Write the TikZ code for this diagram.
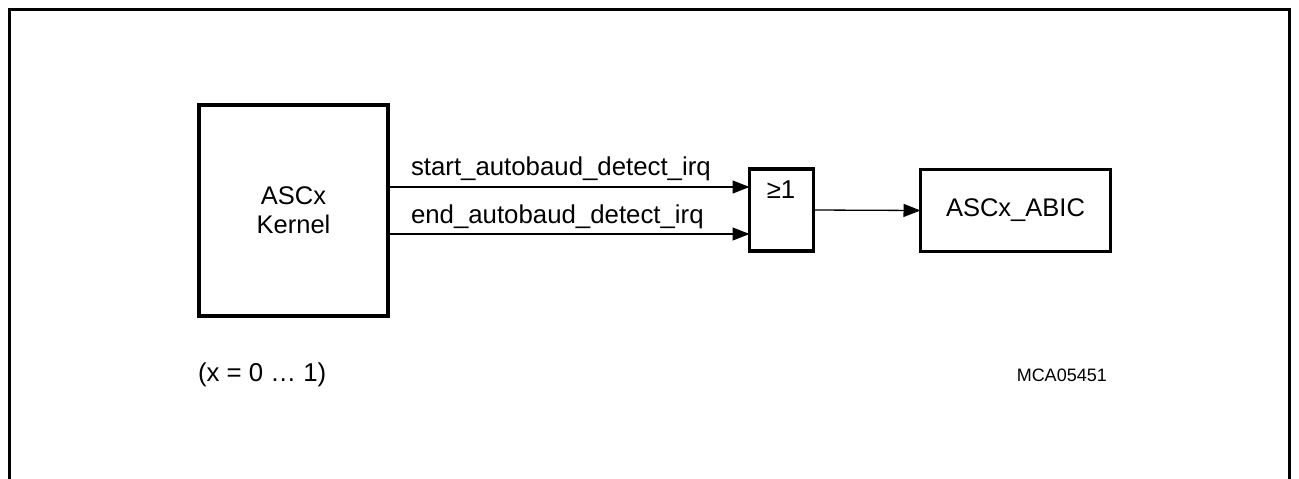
\documentclass[tikz,border=0pt]{standalone}
\usepackage{fontspec}
\setmainfont{Liberation Sans}
\usetikzlibrary{arrows.meta}
\begin{document}
\begin{tikzpicture}[x=1pt,y=-1pt,
  txt/.style={font=\fontsize{25.8}{29}\selectfont, inner sep=0pt, outer sep=0pt},
  small/.style={font=\fontsize{18}{21}\selectfont, inner sep=0pt},
  blk/.style={draw, line width=3.4pt, inner sep=0pt, outer sep=0pt, align=center, font=\fontsize{25.5}{29}\selectfont},
  sig/.style={line width=1.3pt, -{Triangle[length=17pt,width=13pt]}},
  frame/.style={line width=2.5pt}]
\useasboundingbox (0,0) rectangle (1299,479);
\draw[frame] (9.5,485) -- (9.5,9.5) -- (1289.5,9.5) -- (1289.5,485);
\node[blk, minimum width=189pt, minimum height=211pt] (kernel) at (293.5,210.5) {ASCx\\Kernel};
\node[blk, minimum width=64pt, minimum height=82pt] (gate) at (781.5,210) {};
\node[txt] (gatelbl) at (781,190) {≥1};
\node[blk, minimum width=190pt, minimum height=82pt] (abic) at (1015.5,210.5) {ASCx\_ABIC};
\coordinate (in1) at (gate.west |- 0,187);
\coordinate (in2) at (gate.west |- 0,234);
\draw[sig] (kernel.east |- in1) -- (in1);
\draw[sig] (kernel.east |- in2) -- (in2);
\draw[sig] (gate.east) -- (abic.west);
\node[txt, anchor=base west] (l1) at (411,175) {start\_autobaud\_detect\_irq};
\node[txt, anchor=base west] (l2) at (411,223) {end\_autobaud\_detect\_irq};
\node[txt, anchor=base west] (note) at (198,381) {(x = 0 … 1)};
\node[small, anchor=base east] (id) at (1107,381) {MCA05451};
\end{tikzpicture}
\end{document}
